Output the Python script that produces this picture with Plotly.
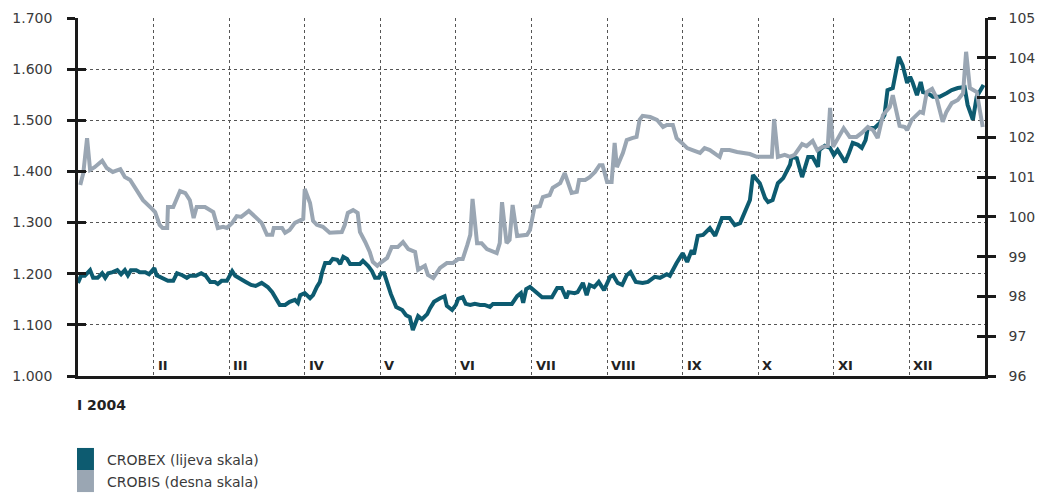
import plotly.graph_objects as go

# ---- data (x in months from start of January 2004) ----
crobex_x = [0.00,0.04,0.09,0.16,0.20,0.26,0.32,0.36,0.40,0.46,0.52,0.57,0.62,0.66,0.70,0.77,0.82,0.89,0.94,1.01,
            1.04,1.12,1.19,1.26,1.31,1.38,1.44,1.48,1.56,1.63,1.69,1.75,1.81,1.85,1.90,1.97,2.04,2.08,2.16,2.22,
            2.29,2.35,2.43,2.51,2.57,2.63,2.67,2.74,2.80,2.87,2.91,2.94,3.00,3.07,3.11,3.16,3.20,3.23,3.27,3.33,
            3.37,3.43,3.47,3.51,3.56,3.60,3.66,3.73,3.77,3.84,3.89,3.93,3.98,4.01,4.05,4.10,4.14,4.21,4.29,4.34,
            4.39,4.43,4.50,4.55,4.62,4.66,4.71,4.79,4.85,4.88,4.95,5.00,5.03,5.09,5.13,5.19,5.25,5.32,5.38,5.45,
            5.49,5.58,5.65,5.74,5.81,5.86,5.89,5.93,5.98,6.14,6.27,6.34,6.40,6.46,6.49,6.57,6.61,6.68,6.73,6.77,
            6.83,6.89,6.96,7.04,7.08,7.14,7.20,7.26,7.31,7.38,7.47,7.54,7.63,7.70,7.79,7.83,7.92,8.00,8.06,8.12,
            8.15,8.20,8.27,8.36,8.43,8.52,8.62,8.69,8.76,8.89,8.93,9.02,9.09,9.13,9.19,9.26,9.33,9.42,9.44,9.51,
            9.58,9.66,9.72,9.79,9.81,9.88,9.95,10.00,10.05,10.15,10.20,10.25,10.32,10.37,10.42,10.45,10.54,10.61,10.67,10.71,
            10.78,10.86,10.91,10.97,11.01,11.04,11.10,11.15,11.18,11.24,11.31,11.40,11.49,11.56,11.64,11.73,11.77,11.84,11.89,11.96,
            11.98]
crobex = [1182,1196,1196,1207,1192,1192,1201,1192,1201,1203,1207,1199,1207,1197,1207,1207,1203,1203,1199,1211,
          1197,1190,1186,1186,1201,1197,1192,1196,1196,1201,1196,1184,1184,1180,1186,1186,1205,1196,1190,1184,
          1178,1176,1182,1174,1164,1147,1139,1139,1145,1149,1143,1158,1162,1152,1158,1174,1184,1203,1221,1221,
          1229,1227,1219,1233,1229,1219,1219,1219,1225,1215,1205,1192,1192,1201,1201,1178,1160,1135,1129,1119,
          1115,1090,1117,1111,1121,1133,1145,1152,1156,1137,1129,1139,1151,1154,1141,1139,1141,1139,1139,1135,
          1141,1141,1141,1141,1156,1162,1143,1170,1174,1154,1154,1172,1172,1152,1164,1162,1164,1182,1158,1178,
          1174,1184,1168,1194,1197,1182,1178,1197,1203,1184,1182,1184,1194,1192,1199,1196,1221,1240,1223,1246,
          1238,1274,1276,1289,1274,1309,1309,1295,1299,1344,1393,1377,1348,1340,1344,1377,1387,1413,1428,1426,
          1389,1428,1428,1409,1442,1450,1446,1432,1442,1418,1436,1456,1452,1446,1461,1485,1485,1495,1510,1559,
          1563,1624,1608,1573,1585,1575,1549,1575,1555,1553,1546,1546,1553,1559,1563,1565,1530,1501,1546,1565,
          1569]

crobis_x = [0.03,0.07,0.12,0.16,0.22,0.32,0.38,0.46,0.56,0.62,0.69,0.78,0.86,0.98,1.02,1.08,1.12,1.18,1.19,1.26,
            1.35,1.42,1.48,1.53,1.57,1.68,1.75,1.79,1.85,1.92,1.97,2.04,2.10,2.16,2.26,2.37,2.43,2.50,2.57,2.59,
            2.70,2.74,2.80,2.87,2.98,3.00,3.07,3.11,3.16,3.24,3.33,3.49,3.53,3.57,3.64,3.70,3.73,3.80,3.86,3.90,
            3.96,4.02,4.09,4.15,4.23,4.30,4.37,4.46,4.50,4.59,4.63,4.70,4.79,4.88,4.96,5.03,5.09,5.15,5.19,5.22,
            5.28,5.34,5.41,5.54,5.58,5.61,5.67,5.71,5.75,5.81,5.94,5.98,6.04,6.11,6.15,6.24,6.28,6.38,6.44,6.53,
            6.60,6.63,6.71,6.77,6.84,6.90,6.94,7.00,7.06,7.10,7.13,7.21,7.26,7.33,7.39,7.43,7.47,7.57,7.66,7.74,
            7.79,7.87,7.92,7.99,8.06,8.13,8.23,8.29,8.36,8.45,8.49,8.52,8.62,8.72,8.80,8.89,8.98,9.06,9.18,9.21,
            9.26,9.35,9.42,9.48,9.58,9.64,9.72,9.78,9.85,9.92,9.95,9.99,10.05,10.13,10.21,10.30,10.37,10.45,10.52,10.58,
            10.65,10.74,10.78,10.83,10.87,10.94,10.97,11.03,11.10,11.14,11.18,11.23,11.30,11.36,11.44,11.49,11.56,11.64,11.71,11.75,
            11.80,11.89,11.97]
crobis = [100.80,101.10,101.98,101.18,101.25,101.41,101.23,101.13,101.20,101.00,100.93,100.68,100.42,100.20,100.12,99.80,99.72,99.72,100.25,100.25,
          100.65,100.60,100.42,99.97,100.25,100.25,100.17,100.12,99.72,99.75,99.72,99.85,100.02,100.00,100.15,99.97,99.85,99.55,99.55,99.72,
          99.72,99.60,99.67,99.85,99.95,100.70,100.35,99.90,99.80,99.75,99.60,99.62,99.80,100.10,100.17,100.10,99.62,99.37,99.12,98.87,
          98.77,98.87,98.97,99.24,99.24,99.37,99.19,99.12,98.67,98.77,98.54,98.46,98.72,98.84,98.84,98.94,98.94,99.29,99.55,100.45,
          99.34,99.34,99.19,99.09,99.34,100.37,99.34,99.42,100.30,99.52,99.55,99.67,100.25,100.27,100.50,100.55,100.73,100.85,101.10,100.60,
          100.63,100.93,100.93,101.00,101.13,101.30,101.30,100.88,100.88,101.86,101.25,101.61,101.93,101.98,102.01,102.44,102.54,102.51,102.44,102.26,
          102.31,102.31,101.98,101.86,101.73,101.68,101.61,101.73,101.68,101.56,101.51,101.68,101.68,101.63,101.61,101.58,101.51,101.51,101.51,102.46,
          101.51,101.56,101.51,101.56,101.83,101.78,101.91,101.68,101.76,101.78,102.74,101.76,101.98,102.23,102.01,102.01,102.11,102.26,102.18,101.98,
          102.56,102.76,103.06,102.64,102.29,102.26,102.18,102.44,102.56,102.64,102.61,103.14,103.22,102.99,102.39,102.64,102.86,102.94,103.11,104.15,
          103.24,103.14,102.26]

month_labels = ["II", "III", "IV", "V", "VI", "VII", "VIII", "IX", "X", "XI", "XII"]
month_pos = [1, 2, 3, 4, 5, 6, 7, 8, 9, 10, 11]
left_ticks = [1000, 1100, 1200, 1300, 1400, 1500, 1600, 1700]
left_ticktext = ["1.000", "1.100", "1.200", "1.300", "1.400", "1.500", "1.600", "1.700"]
right_ticks = [96, 97, 98, 99, 100, 101, 102, 103, 104, 105]

C_BEX = "#0d5b70"
C_BIS = "#9aa6b3"
TXT = "#3a3a3a"
FONT = "DejaVu Sans"

fig = go.Figure()
fig.add_trace(go.Scatter(x=crobis_x, y=crobis, mode="lines", yaxis="y2",
                         line=dict(color=C_BIS, width=4), name="CROBIS (desna skala)", showlegend=False))
fig.add_trace(go.Scatter(x=crobex_x, y=crobex, mode="lines", yaxis="y",
                         line=dict(color=C_BEX, width=4), name="CROBEX (lijeva skala)", showlegend=False))
# empty traces so the tick-crossing overlay axes are drawn
fig.add_trace(go.Scatter(x=[None], y=[None], yaxis="y3", showlegend=False, hoverinfo="skip"))
fig.add_trace(go.Scatter(x=[None], y=[None], yaxis="y4", showlegend=False, hoverinfo="skip"))

grid = dict(showgrid=True, gridcolor="#555555", gridwidth=1, griddash="dot")

fig.update_layout(
    width=1044, height=493,
    margin=dict(l=70, r=67, t=10, b=125),
    paper_bgcolor="white", plot_bgcolor="white",
    font=dict(family=FONT, size=14, color=TXT),
    xaxis=dict(range=[0, 12], tickvals=list(range(0, 13)), showticklabels=False, ticks="",
               showline=True, linecolor="#1a1a1a", linewidth=2.5, zeroline=False,
               automargin=False, **grid),
    yaxis=dict(range=[1000, 1700], tickvals=left_ticks, ticktext=left_ticktext,
               ticks="outside", ticklen=8, tickwidth=2.5, tickcolor="#1a1a1a",
               showline=True, linecolor="#1a1a1a", linewidth=2.5, zeroline=False,
               ticklabelstandoff=12, automargin=False, **grid),
    yaxis2=dict(range=[96, 105], tickvals=right_ticks, overlaying="y", side="right",
                ticks="outside", ticklen=8, tickwidth=2.5, tickcolor="#1a1a1a",
                showline=True, linecolor="#1a1a1a", linewidth=2.5, zeroline=False,
                showgrid=False, ticklabelstandoff=10, automargin=False),
    yaxis3=dict(range=[1000, 1700], tickvals=left_ticks, overlaying="y", side="left",
                ticks="inside", ticklen=8, tickwidth=2.5, tickcolor="#1a1a1a",
                showticklabels=False, showgrid=False, zeroline=False, showline=False,
                automargin=False),
    yaxis4=dict(range=[96, 105], tickvals=right_ticks, overlaying="y", side="right",
                ticks="inside", ticklen=8, tickwidth=2.5, tickcolor="#1a1a1a",
                showticklabels=False, showgrid=False, zeroline=False, showline=False,
                automargin=False),
)

for pos, lab in zip(month_pos, month_labels):
    fig.add_annotation(x=pos, y=0, xref="x", yref="paper", text=lab, showarrow=False,
                       xanchor="left", yanchor="bottom", xshift=2, yshift=1,
                       font=dict(family="DejaVu Sans", size=13, color="#222222", weight="bold"))

fig.add_annotation(x=0, y=-0.081, xref="paper", yref="paper", text="I 2004", showarrow=False,
                   xanchor="left", yanchor="middle", xshift=-3,
                   font=dict(family="DejaVu Sans", size=14, color="#222222", weight="bold"))

# legend
legend_items = [("CROBEX (lijeva skala)", C_BEX), ("CROBIS (desna skala)", C_BIS)]
for i, (lab, col) in enumerate(legend_items):
    y_top = -0.201 - i * 0.0616
    fig.add_shape(type="rect", xref="paper", yref="paper", x0=-0.0011, x1=0.0176,
                  y0=y_top - 0.0616, y1=y_top, fillcolor=col, line=dict(width=0))
    fig.add_annotation(x=0.0298, y=y_top - 0.0336, xref="paper", yref="paper", text=lab,
                       showarrow=False, xanchor="left", yanchor="middle",
                       font=dict(family=FONT, size=14, color=TXT))

fig.write_html("out.html")
